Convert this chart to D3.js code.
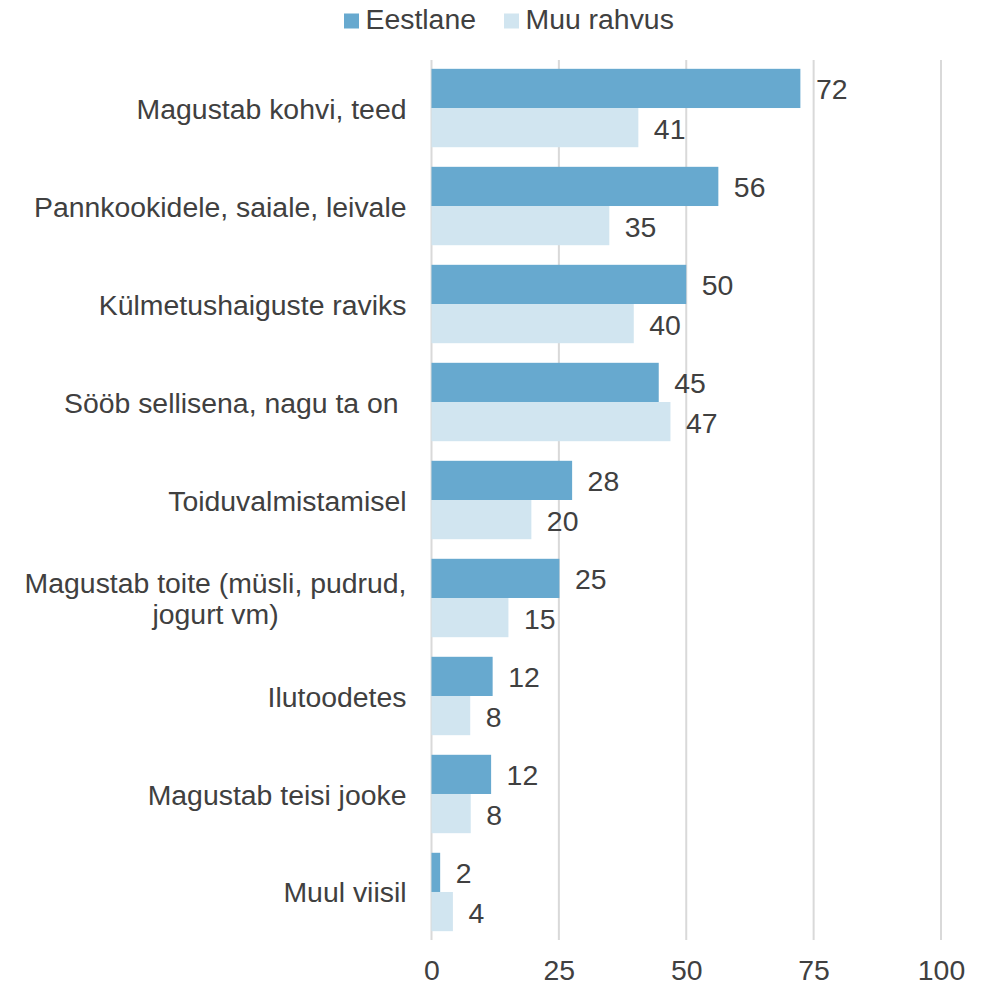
<!DOCTYPE html>
<html>
<head>
<meta charset="utf-8">
<script src="https://cdn.jsdelivr.net/npm/d3@7"></script>
<style>
  html, body { margin: 0; padding: 0; background: #ffffff; }
  svg { display: block; font-family: "Liberation Sans", Arial, sans-serif; }
  text { white-space: pre; }
</style>
</head>
<body>
<svg id="chart" width="987" height="986"></svg>
<script>
const categories = [
  "Magustab kohvi, teed",
  "Pannkookidele, saiale, leivale",
  "Külmetushaiguste raviks",
  "Sööb sellisena, nagu ta on ",
  "Toiduvalmistamisel",
  "Magustab toite (müsli, pudrud, jogurt vm)",
  "Ilutoodetes",
  "Magustab teisi jooke",
  "Muul viisil"
];
const seriesNames = ["Eestlane", "Muu rahvus"];
const eestlane = [72.4, 56.3, 50.0, 44.6, 27.6, 25.1, 12.0, 11.7, 1.7];
const muuRahvus = [40.6, 34.9, 39.7, 46.9, 19.6, 15.1, 7.6, 7.7, 4.2];
const xTicks = [0, 25, 50, 75, 100];
const colors = ["#67a9cf", "#d1e5f0"];

const svg = d3.select("#chart");
const textColor = "#404040";
const fontSize = 28.4;

const margin = { left: 431.5, right: 46, top: 60, bottom: 46 };
const W = 987, H = 986;

const x = d3.scaleLinear().domain([0, 100]).range([margin.left, W - margin.right]);
const y = d3.scaleBand().domain(categories).range([margin.top, H - margin.bottom])
  .paddingInner(0.2).paddingOuter(0.09);
const ySub = d3.scaleBand().domain(seriesNames).range([0, y.bandwidth()]);

const data = categories.map((c, i) => ({ cat: c, values: [eestlane[i], muuRahvus[i]] }));

// Gridlines
svg.append("g").selectAll("line").data(xTicks).join("line")
  .attr("x1", d => x(d)).attr("x2", d => x(d))
  .attr("y1", margin.top).attr("y2", H - margin.bottom)
  .attr("stroke", "#d9d9d9").attr("stroke-width", 2);

// Bars
const groups = svg.append("g").selectAll("g").data(data).join("g")
  .attr("transform", d => `translate(0,${y(d.cat)})`);

groups.selectAll("rect").data(d => d.values.map((v, j) => ({ v, s: seriesNames[j], j })))
  .join("rect")
  .attr("x", x(0))
  .attr("y", d => ySub(d.s))
  .attr("width", d => x(d.v) - x(0))
  .attr("height", ySub.bandwidth())
  .attr("fill", d => colors[d.j]);

groups.selectAll("text.val").data(d => d.values.map((v, j) => ({ v, s: seriesNames[j], j })))
  .join("text").attr("class", "val")
  .attr("x", d => x(d.v) + 15.5)
  .attr("y", d => ySub(d.s) + ySub.bandwidth() / 2)
  .attr("dy", "0.39em")
  .attr("font-size", fontSize)
  .attr("fill", textColor)
  .text(d => d3.format(".0f")(d.v));

// Category labels (y axis)
const yAxis = d3.axisLeft(y).tickSize(0).tickPadding(25);
const yg = svg.append("g").attr("transform", `translate(${x(0)},0)`).call(yAxis);
yg.select(".domain").remove();
yg.selectAll("text").attr("font-size", fontSize).attr("fill", textColor)
  .attr("font-family", '"Liberation Sans", Arial, sans-serif')
  .attr("dy", "0.37em");

const maxLabelWidth = 400;
yg.selectAll(".tick text").each(function(d) {
  const t = d3.select(this);
  const words = d.split(" ");
  const lines = [];
  let line = [];
  t.text(null);
  const probe = t.append("tspan");
  for (const w of words) {
    line.push(w);
    probe.text(line.join(" "));
    if (probe.node().getComputedTextLength() > maxLabelWidth && line.length > 1) {
      line.pop();
      lines.push(line.join(" "));
      line = [w];
    }
  }
  lines.push(line.join(" "));
  probe.remove();
  if (lines.length === 1) {
    t.text(d);
    return;
  }
  let widest = 0;
  lines.forEach(l => {
    const s = t.append("tspan").text(l);
    widest = Math.max(widest, s.node().getComputedTextLength());
    s.remove();
  });
  const cx = -25 - widest / 2;
  t.attr("text-anchor", "middle").attr("dy", null);
  const lh = 32;
  lines.forEach((l, k) => {
    t.append("tspan").attr("x", cx)
      .attr("y", (k - (lines.length - 1) / 2) * lh)
      .attr("dy", "0.37em")
      .text(l);
  });
});

// X axis labels
const xAxis = d3.axisBottom(x).tickValues(xTicks).tickSize(0).tickPadding(0).tickFormat(d3.format("d"));
const xg = svg.append("g").attr("transform", `translate(0,${H - margin.bottom})`).call(xAxis);
xg.select(".domain").remove();
xg.selectAll("text").attr("font-size", fontSize).attr("fill", textColor)
  .attr("font-family", '"Liberation Sans", Arial, sans-serif')
  .attr("dy", null).attr("y", 39.5);

// Legend
const legendX = [344, 504];
const legend = svg.append("g").selectAll("g").data(seriesNames).join("g")
  .attr("transform", (d, i) => `translate(${legendX[i]},0)`);
legend.append("rect").attr("x", 0).attr("y", 13.5).attr("width", 15).attr("height", 15)
  .attr("fill", (d, i) => colors[i]);
legend.append("text").attr("x", 21.5).attr("y", 28.5).attr("font-size", fontSize)
  .attr("fill", textColor).text(d => d);
</script>
</body>
</html>
